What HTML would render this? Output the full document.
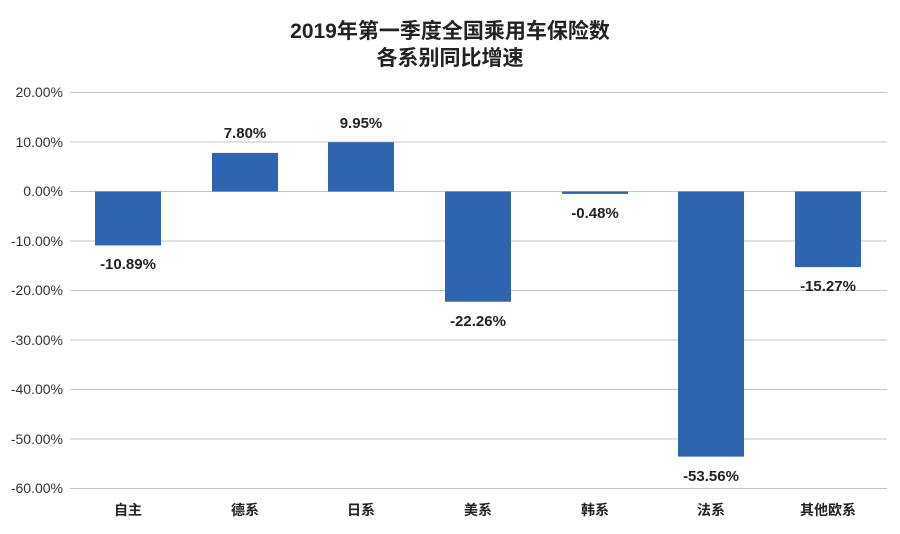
<!DOCTYPE html>
<html><head><meta charset="utf-8"><style>
body{margin:0;background:#fff;}
svg text{font-family:"Liberation Sans","Noto Sans CJK SC",sans-serif;}
</style></head><body>
<svg width="900" height="529" viewBox="0 0 900 529" xmlns="http://www.w3.org/2000/svg">
<rect width="900" height="529" fill="#fff"/>
<text x="450" y="38" text-anchor="middle" font-size="21" font-weight="bold" fill="#222">2019年第一季度全国乘用车保险数</text>
<text x="450" y="65" text-anchor="middle" font-size="21" font-weight="bold" fill="#222">各系别同比增速</text>
<g stroke="#c4c4c4" stroke-width="1">
<line x1="70" x2="887" y1="92.5" y2="92.5"/>
<line x1="70" x2="887" y1="142" y2="142"/>
<line x1="70" x2="887" y1="191.5" y2="191.5"/>
<line x1="70" x2="887" y1="241" y2="241"/>
<line x1="70" x2="887" y1="290.5" y2="290.5"/>
<line x1="70" x2="887" y1="340" y2="340"/>
<line x1="70" x2="887" y1="389.5" y2="389.5"/>
<line x1="70" x2="887" y1="439" y2="439"/>
<line x1="70" x2="887" y1="488.5" y2="488.5"/>
</g>
<g font-size="14" fill="#333" text-anchor="end">
<text x="63" y="97">20.00%</text>
<text x="63" y="147">10.00%</text>
<text x="63" y="196">0.00%</text>
<text x="63" y="246">-10.00%</text>
<text x="63" y="295">-20.00%</text>
<text x="63" y="345">-30.00%</text>
<text x="63" y="394">-40.00%</text>
<text x="63" y="444">-50.00%</text>
<text x="63" y="493">-60.00%</text>
</g>
<g fill="#2e64b0">
<rect x="95" y="191.5" width="66" height="53.9"/>
<rect x="212" y="152.9" width="66" height="38.6"/>
<rect x="328" y="142.2" width="66" height="49.3"/>
<rect x="445" y="191.5" width="66" height="110.2"/>
<rect x="562" y="191.5" width="66" height="2.4"/>
<rect x="678" y="191.5" width="66" height="265.1"/>
<rect x="795" y="191.5" width="66" height="75.6"/>
</g>
<g font-size="15" font-weight="bold" fill="#222" text-anchor="middle">
<text x="128" y="269">-10.89%</text>
<text x="245" y="138">7.80%</text>
<text x="361" y="128">9.95%</text>
<text x="478" y="326">-22.26%</text>
<text x="595" y="218">-0.48%</text>
<text x="711" y="481">-53.56%</text>
<text x="828" y="291">-15.27%</text>
</g>
<g font-size="14" font-weight="bold" fill="#222" text-anchor="middle">
<text x="128" y="515">自主</text>
<text x="245" y="515">德系</text>
<text x="361" y="515">日系</text>
<text x="478" y="515">美系</text>
<text x="595" y="515">韩系</text>
<text x="711" y="515">法系</text>
<text x="828" y="515">其他欧系</text>
</g>
</svg>
</body></html>
